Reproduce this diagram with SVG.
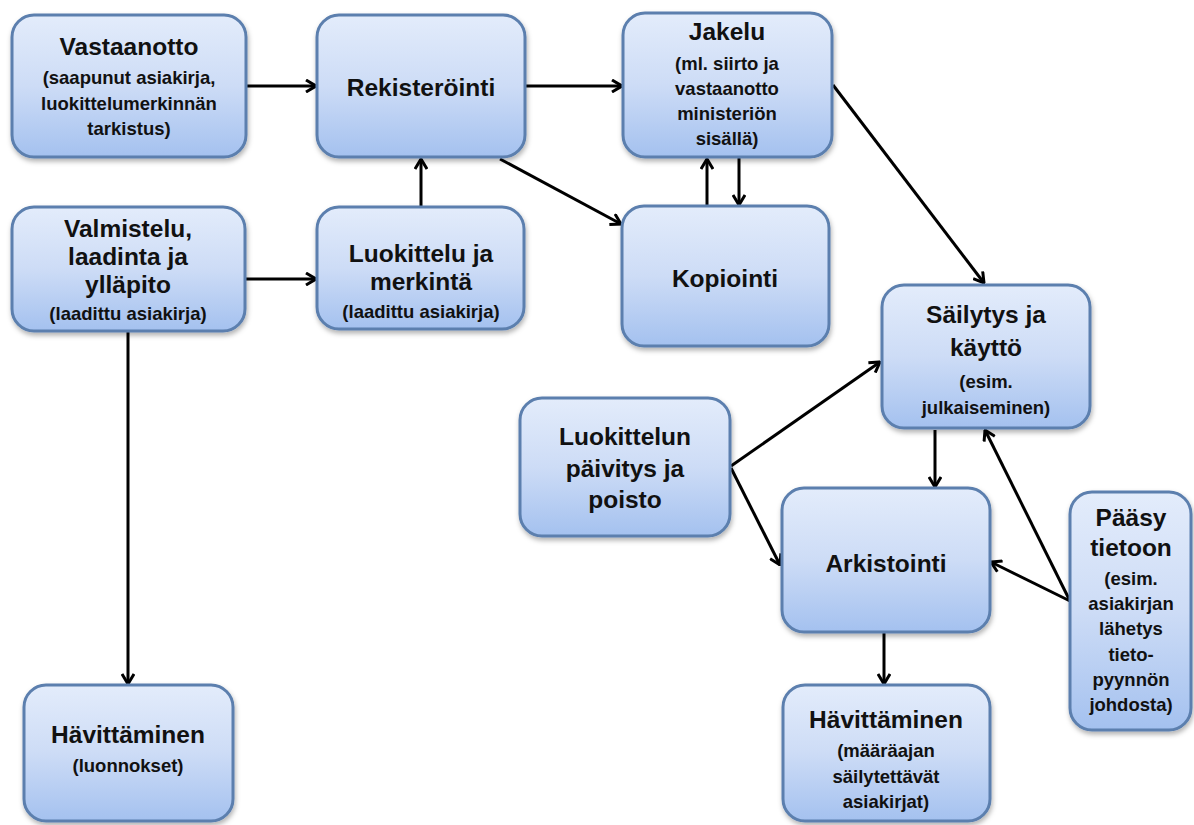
<svg xmlns="http://www.w3.org/2000/svg" width="1194" height="825" viewBox="0 0 1194 825">
<defs>
<linearGradient id="g" x1="0" y1="0" x2="0" y2="1">
<stop offset="0" stop-color="#e3ecfb"/>
<stop offset="0.5" stop-color="#cddcf6"/>
<stop offset="1" stop-color="#a4c1ef"/>
</linearGradient>
<filter id="sh" x="-10%" y="-10%" width="125%" height="125%">
<feDropShadow dx="1" dy="3" stdDeviation="2.5" flood-color="#000" flood-opacity="0.3"/>
</filter>
<marker id="ah" viewBox="0 0 12 14" refX="11" refY="7" markerWidth="12" markerHeight="14" markerUnits="userSpaceOnUse" orient="auto">
<path d="M1,1 L11,7 L1,13" fill="none" stroke="#000" stroke-width="3"/>
</marker>
<style>
.box{fill:url(#g);stroke:#5b7fae;stroke-width:3;filter:url(#sh)}
.t{font-family:"Liberation Sans",Arial,sans-serif;font-weight:bold;font-size:24.5px;fill:#111;text-anchor:middle}
.s{font-family:"Liberation Sans",Arial,sans-serif;font-weight:bold;font-size:18.5px;fill:#111;text-anchor:middle}
.c{fill:none;stroke:#000;stroke-width:3;marker-end:url(#ah)}
</style>
</defs>
<rect width="1194" height="825" fill="#fff"/>
<g id="connectors">
<line class="c" x1="247" y1="86" x2="316" y2="86"/>
<line class="c" x1="526" y1="86" x2="622" y2="86"/>
<line class="c" x1="500" y1="159" x2="621" y2="224"/>
<line class="c" x1="421" y1="207" x2="421" y2="159"/>
<line class="c" x1="245" y1="279" x2="316" y2="279"/>
<line class="c" x1="707" y1="206" x2="707" y2="159"/>
<line class="c" x1="739" y1="158" x2="739" y2="205"/>
<line class="c" x1="833" y1="85" x2="984" y2="283"/>
<line class="c" x1="128" y1="331" x2="128" y2="684"/>
<line class="c" x1="731" y1="466" x2="880" y2="362"/>
<line class="c" x1="731" y1="468" x2="780" y2="565"/>
<line class="c" x1="935" y1="430" x2="935" y2="487"/>
<line class="c" x1="1070" y1="601" x2="991" y2="562"/>
<line class="c" x1="1070" y1="601" x2="985" y2="430"/>
<line class="c" x1="884" y1="633" x2="884" y2="684"/>
</g>
<g id="n-vastaanotto">
<rect class="box" x="12" y="15" width="234" height="142" rx="22"/>
<text class="t" x="129" y="55">Vastaanotto</text>
<text class="s" x="129" y="84">(saapunut asiakirja,</text>
<text class="s" x="129" y="110">luokittelumerkinnän</text>
<text class="s" x="129" y="135">tarkistus)</text>
</g>
<g id="n-rekisterointi">
<rect class="box" x="317" y="15" width="208" height="142" rx="22"/>
<text class="t" x="421" y="96">Rekisteröinti</text>
</g>
<g id="n-jakelu">
<rect class="box" x="623" y="13" width="209" height="144" rx="22"/>
<text class="t" x="727" y="40">Jakelu</text>
<text class="s" x="727" y="70">(ml. siirto ja</text>
<text class="s" x="727" y="95">vastaanotto</text>
<text class="s" x="727" y="120">ministeriön</text>
<text class="s" x="727" y="145">sisällä)</text>
</g>
<g id="n-kopiointi">
<rect class="box" x="622" y="206" width="207" height="140" rx="22"/>
<text class="t" x="725" y="287">Kopiointi</text>
</g>
<g id="n-valmistelu">
<rect class="box" x="12" y="207" width="233" height="124" rx="22"/>
<text class="t" x="128" y="237">Valmistelu,</text>
<text class="t" x="128" y="265">laadinta ja</text>
<text class="t" x="128" y="293">ylläpito</text>
<text class="s" x="128" y="320">(laadittu asiakirja)</text>
</g>
<g id="n-luokittelu">
<rect class="box" x="317" y="207" width="207" height="122" rx="22"/>
<text class="t" x="421" y="262">Luokittelu ja</text>
<text class="t" x="421" y="290">merkintä</text>
<text class="s" x="421" y="318">(laadittu asiakirja)</text>
</g>
<g id="n-sailytys">
<rect class="box" x="882" y="285" width="208" height="143" rx="22"/>
<text class="t" x="986" y="323">Säilytys ja</text>
<text class="t" x="986" y="356">käyttö</text>
<text class="s" x="986" y="388">(esim.</text>
<text class="s" x="986" y="414">julkaiseminen)</text>
</g>
<g id="n-paivitys">
<rect class="box" x="520" y="398" width="210" height="138" rx="22"/>
<text class="t" x="625" y="445">Luokittelun</text>
<text class="t" x="625" y="477">päivitys ja</text>
<text class="t" x="625" y="508">poisto</text>
</g>
<g id="n-arkistointi">
<rect class="box" x="782" y="488" width="208" height="144" rx="22"/>
<text class="t" x="886" y="572">Arkistointi</text>
</g>
<g id="n-paasy">
<rect class="box" x="1070" y="492" width="121" height="238" rx="22"/>
<text class="t" x="1131" y="526">Pääsy</text>
<text class="t" x="1131" y="556">tietoon</text>
<text class="s" x="1131" y="585">(esim.</text>
<text class="s" x="1131" y="610">asiakirjan</text>
<text class="s" x="1131" y="635">lähetys</text>
<text class="s" x="1131" y="661">tieto-</text>
<text class="s" x="1131" y="686">pyynnön</text>
<text class="s" x="1131" y="711">johdosta)</text>
</g>
<g id="n-havittaminen-r">
<rect class="box" x="783" y="685" width="207" height="136" rx="22"/>
<text class="t" x="886" y="728">Hävittäminen</text>
<text class="s" x="886" y="757">(määräajan</text>
<text class="s" x="886" y="783">säilytettävät</text>
<text class="s" x="886" y="808">asiakirjat)</text>
</g>
<g id="n-havittaminen-l">
<rect class="box" x="24" y="685" width="209" height="136" rx="22"/>
<text class="t" x="128" y="743">Hävittäminen</text>
<text class="s" x="128" y="772">(luonnokset)</text>
</g>
</svg>
